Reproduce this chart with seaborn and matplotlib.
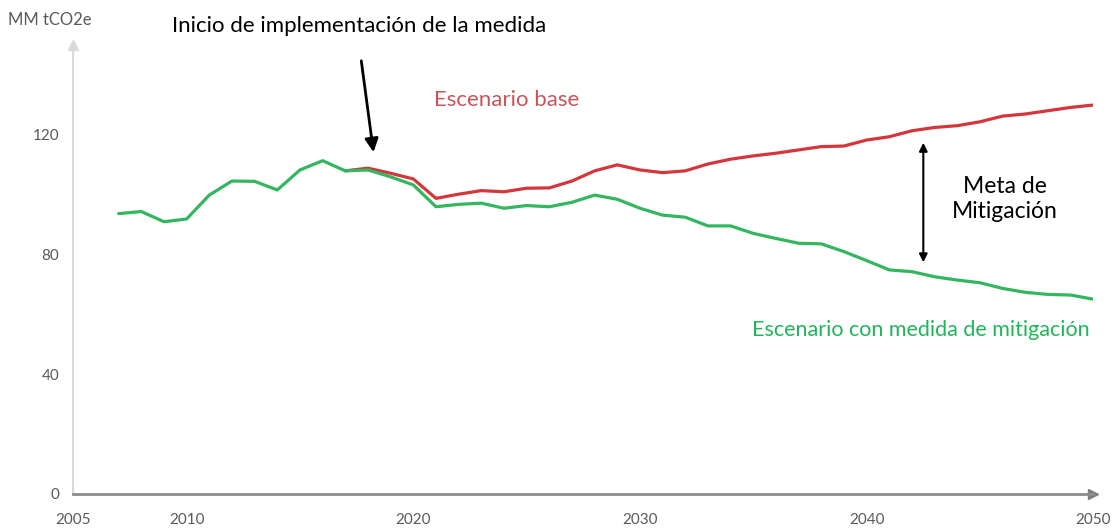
import numpy as np
import pandas as pd
import matplotlib.pyplot as plt
import seaborn as sns

# ==============================
# 1. Data (MM tCO2e)
# ==============================
years_medida = list(range(2007, 2051))
medida = [93.7, 94.4, 91.0, 91.9, 99.9, 104.6, 104.5, 101.6, 108.3, 111.4,
          108.0, 108.3, 106.0, 103.3, 96.0, 96.8, 97.2, 95.5, 96.4, 96.0,
          97.5, 99.9, 98.5, 95.5, 93.2, 92.5, 89.6, 89.6, 87.1, 85.4,
          83.8, 83.6, 81.0, 78.0, 74.9, 74.3, 72.6, 71.5, 70.6, 68.7,
          67.4, 66.7, 66.5, 65.1]

years_base = list(range(2017, 2051))
base = [108.0, 108.9, 107.2, 105.3, 98.8, 100.2, 101.4, 101.0, 102.2, 102.3,
        104.6, 108.0, 110.0, 108.3, 107.4, 108.0, 110.3, 111.9, 113.0, 113.9,
        115.0, 116.1, 116.3, 118.3, 119.4, 121.4, 122.5, 123.1, 124.4, 126.3,
        127.0, 128.1, 129.2, 130.0]

x_ticks = list(range(2005, 2051, 5))
x_labels = ["2005", "2010", "", "2020", "", "2030", "", "2040", "", "2050"]
y_ticks = [0, 40, 80, 120]

df = pd.concat([
    pd.DataFrame({"year": years_base, "value": base, "scenario": "base"}),
    pd.DataFrame({"year": years_medida, "value": medida, "scenario": "medida"}),
])

# ==============================
# 2. Plot
# ==============================
sns.set_theme(style="white")
plt.rcParams["font.family"] = ["Lato", "DejaVu Sans"]

RED = "#d4373b"
GREEN = "#34b55f"

fig = plt.figure(figsize=(11.17, 5.31), dpi=100)
ax = fig.add_axes([0.0656, 0.0697, 0.9132, 0.8452])

sns.lineplot(data=df, x="year", y="value", hue="scenario",
             palette={"base": RED, "medida": GREEN}, linewidth=2.3,
             legend=False, ax=ax)

ax.set_xlim(2005, 2050)
ax.set_ylim(0, 150)
ax.set_xlabel("")
ax.set_ylabel("")

ax.set_xticks(x_ticks)
ax.set_xticklabels(x_labels)
ax.set_yticks(y_ticks)

for s in ["top", "right"]:
    ax.spines[s].set_visible(False)
ax.spines["left"].set_color("#d9d9d9")
ax.spines["left"].set_linewidth(1.5)
ax.spines["bottom"].set_color("#8c8c8c")
ax.spines["bottom"].set_linewidth(2)

ax.tick_params(axis="x", direction="inout", length=9, width=1,
               color="#8c8c8c", labelcolor="#595959", labelsize=11, pad=9)
ax.tick_params(axis="y", direction="out", length=5, width=1,
               color="#d9d9d9", labelcolor="#595959", labelsize=11, pad=5)

# axis arrowheads
ax.plot(1, 0, ">", transform=ax.transAxes, clip_on=False,
        color="#7f7f7f", markersize=7)
ax.plot(0, 1, "^", transform=ax.transAxes, clip_on=False,
        color="#d9d9d9", markersize=7)

# ==============================
# 3. Annotations
# ==============================
fig.text(0.007, 0.962, "MM tCO2e", color="#595959", fontsize=12,
         ha="left", va="center")

ax.text(2009.35, 156.5, "Inicio de implementación de la medida",
        color="black", fontsize=16, ha="left", va="center", clip_on=False)
ax.annotate("", xy=(2018.26, 113.3), xytext=(2017.69, 145.7),
            arrowprops=dict(arrowstyle="-|>", color="black", lw=2,
                            mutation_scale=20))

ax.text(2024.1, 131.7, "Escenario base", color="#c9555a", fontsize=16,
        ha="center", va="center")

ax.annotate("", xy=(2042.5, 76.5), xytext=(2042.5, 118.3),
            arrowprops=dict(arrowstyle="<|-|>", color="black", lw=1.5,
                            mutation_scale=12))
ax.text(2046.1, 98.6, "Meta de\nMitigación", color="black", fontsize=16.5,
        ha="center", va="center", linespacing=1.2)

ax.text(2042.4, 54.8, "Escenario con medida de mitigación", color="#1fb559",
        fontsize=15.5, ha="center", va="center")

plt.savefig("out.png", dpi=100)
